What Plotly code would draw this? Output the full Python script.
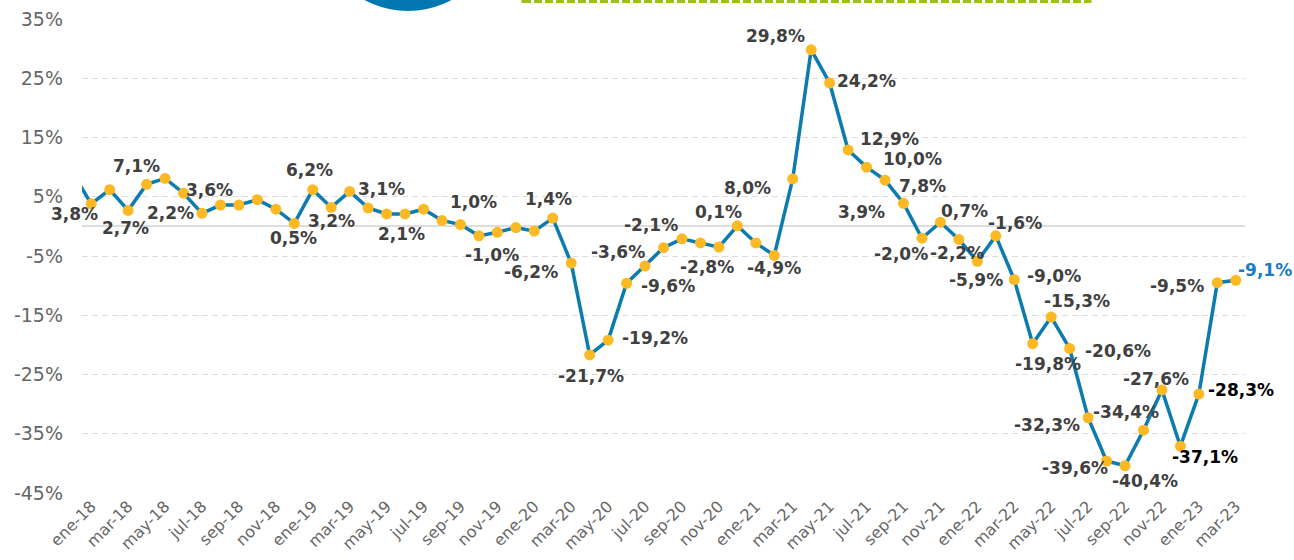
import plotly.graph_objects as go

# ---------------- data ----------------
prev_value = 9.0  # dic-17, only the line segment entering from the left edge is visible
values = [3.8, 6.2, 2.7, 7.1, 8.1, 5.6, 2.2, 3.6, 3.6, 4.5, 2.9, 0.5,
          6.2, 3.2, 5.9, 3.1, 2.1, 2.1, 2.9, 1.0, 0.3, -1.6, -1.0, -0.2,
          -0.8, 1.4, -6.2, -21.7, -19.2, -9.6, -6.7, -3.6, -2.1, -2.8, -3.5, 0.1,
          -2.8, -4.9, 8.0, 29.8, 24.2, 12.9, 10.0, 7.8, 3.9, -2.0, 0.7, -2.2,
          -5.9, -1.6, -9.0, -19.8, -15.3, -20.6, -32.3, -39.6, -40.4, -34.4, -27.6, -37.1,
          -28.3, -9.5, -9.1]
tick_labels = ["ene-18", "mar-18", "may-18", "jul-18", "sep-18", "nov-18",
               "ene-19", "mar-19", "may-19", "jul-19", "sep-19", "nov-19",
               "ene-20", "mar-20", "may-20", "jul-20", "sep-20", "nov-20",
               "ene-21", "mar-21", "may-21", "jul-21", "sep-21", "nov-21",
               "ene-22", "mar-22", "may-22", "jul-22", "sep-22", "nov-22",
               "ene-23", "mar-23"]
y_ticks = [-45, -35, -25, -15, -5, 5, 15, 25, 35]
y_tick_labels = ["-45%", "-35%", "-25%", "-15%", "-5%", "5%", "15%", "25%", "35%"]
labeled_points = [0, 2, 3, 6, 7, 11, 12, 13, 15, 16, 19, 22, 25, 26, 27, 28, 29,
                  31, 32, 33, 35, 37, 38, 39, 40, 41, 42, 43, 44, 45, 46, 47, 48,
                  49, 50, 51, 52, 53, 54, 55, 56, 57, 58, 59, 60, 61, 62]

# ---------------- label placement (pixel offsets from the point: dx right, dy down) ----------------
label_offsets = {
    0: (-17, 10), 2: (-3, 18), 3: (-10, -18), 6: (-31, 0), 7: (-11, -15),
    11: (-1, 15), 12: (-3, -20), 13: (0, 14), 15: (13, -19), 16: (15, 20),
    19: (32, -18), 22: (-5, 23), 25: (-4, -19), 26: (-40, 9), 27: (1, 21),
    28: (47, -2), 29: (41, 3), 31: (-46, 4), 32: (-31, -14), 33: (7, 24),
    35: (-19, -14), 37: (0, 13), 38: (-45, 9), 39: (-36, -14), 40: (37, -2),
    41: (41, -11), 42: (46, -8), 43: (37, 6), 44: (-42, 9), 45: (-21, 16),
    46: (24, -11), 47: (-2, 14), 48: (-1, 19), 49: (19, -13), 50: (40, -4),
    51: (15, 20), 52: (26, -16), 53: (48, 3), 54: (-41, 7), 55: (-32, 7),
    56: (20, 15), 57: (-17, -18), 58: (-6, -11), 59: (25, 11), 60: (42, -4),
    61: (-40, 3), 62: (29, -10),
}
label_colors = {59: "#000000", 60: "#000000", 62: "#1a7bc4"}

LINE = "#0b7bb0"
MARK = "#fdb924"
GRID = "#dddddd"
TXT = "#404040"
TICK = "#666666"

x_idx = list(range(len(values)))

fig = go.Figure()
fig.add_trace(go.Scatter(x=[-1] + x_idx, y=[prev_value] + values, mode="lines",
                         line=dict(color=LINE, width=3.5), hoverinfo="skip", showlegend=False))
fig.add_trace(go.Scatter(x=x_idx, y=values, mode="markers",
                         marker=dict(color=MARK, size=11), showlegend=False,
                         cliponaxis=False))

def fmt(v):
    return f"{v:.1f}".replace(".", ",") + "%"

for i in labeled_points:
    dx, dy = label_offsets[i]
    fig.add_annotation(x=i, y=values[i], text=fmt(values[i]), showarrow=False,
                       xshift=dx, yshift=-dy,
                       font=dict(family="DejaVu Sans", size=17, weight="bold",
                                 color=label_colors.get(i, TXT)))

# plot area in pixels: x 82..1245, y 19..493
W, H = 1294, 560
L, R, T, B = 82, 1245, 19, 493
pw, ph = R - L, B - T
def px(xp):
    return (xp - L) / pw
def py(yp):
    return (B - yp) / ph

# decorations at the top (partially visible logo circle and dashed green box)
cx, cy, r = 408, -80.5, 91.5
fig.add_shape(type="circle", xref="paper", yref="paper",
              x0=px(cx - r), x1=px(cx + r), y0=py(cy + r), y1=py(cy - r),
              fillcolor="#0077b0", line=dict(width=0), layer="above")
fig.add_shape(type="rect", xref="paper", yref="paper",
              x0=px(523), x1=px(1090), y0=py(1.5), y1=py(-60),
              line=dict(color="#9cc213", width=3, dash="8px,3px"), fillcolor="rgba(0,0,0,0)")

fig.update_layout(
    width=W, height=H,
    margin=dict(l=L, r=W - R, t=T, b=H - B, autoexpand=False),
    plot_bgcolor="white", paper_bgcolor="white",
    font=dict(family="DejaVu Sans", color=TICK),
    xaxis=dict(range=[-0.5, len(values) - 0.5], tickvals=x_idx[::2], ticktext=tick_labels,
               tickangle=-45, tickfont=dict(size=16, color=TICK), showgrid=False,
               zeroline=False, showline=False, ticks="", automargin=False),
    yaxis=dict(range=[-45, 35], tickvals=y_ticks, ticktext=y_tick_labels,
               tickfont=dict(size=19, color=TICK), showgrid=True, gridcolor=GRID,
               griddash="6px,4px", gridwidth=1.2, zeroline=True, zerolinecolor=GRID,
               zerolinewidth=2, showline=False, ticks="", ticklabelstandoff=18,
               automargin=False),
)

fig.write_html("out.html", config={"displayModeBar": False},
               post_script="document.body.style.margin='0';document.body.style.overflow='hidden';")
